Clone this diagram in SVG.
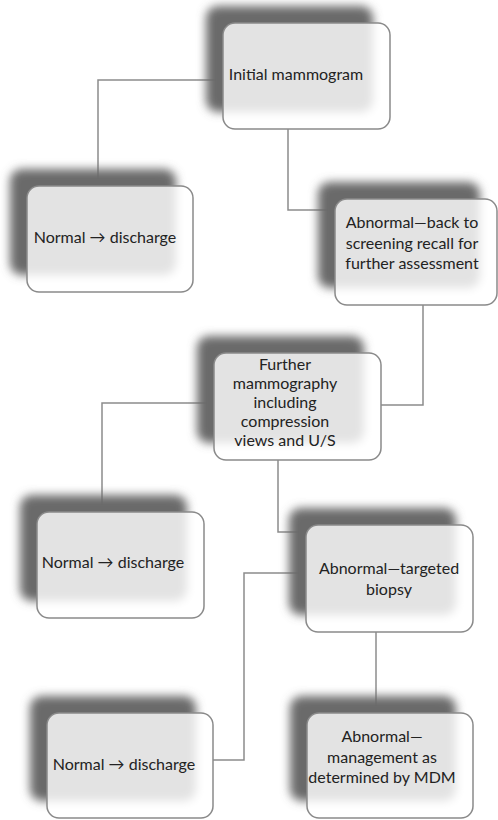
<svg xmlns="http://www.w3.org/2000/svg" width="498" height="820" viewBox="0 0 498 820">
<defs>
<filter id="blur" x="-20%" y="-20%" width="140%" height="140%"><feGaussianBlur stdDeviation="5"/></filter>
</defs>
<style>
.bg{fill:#ffffff}
.conn{fill:none;stroke:#8c8c8c;stroke-width:1.5}
.sh{fill:#6a6a6a;filter:url(#blur)}
.box{fill:#ffffff;fill-opacity:0.81;stroke:#8a8a8a;stroke-width:1.5}
text{font-family:Lato,"Liberation Sans",sans-serif;font-size:16px;fill:#222222;text-anchor:middle}
</style>
<rect class="bg" x="0" y="0" width="498" height="820"/>
<g id="connectors">
<path class="conn" d="M223,80 H98 V186"/>
<path class="conn" d="M288,129 V210 H335"/>
<path class="conn" d="M423,305 V405 H381"/>
<path class="conn" d="M214,403 H102 V512"/>
<path class="conn" d="M278,460 V532 H306"/>
<path class="conn" d="M306,573 H244 V760 H213"/>
<path class="conn" d="M376,632 V713"/>
</g>
<g id="n1">
<rect class="sh" x="206" y="6" width="167" height="106" rx="12"/>
<rect class="box" x="223" y="23" width="167" height="106" rx="12"/>
<text x="296" y="80">Initial mammogram</text>
</g>
<g id="n2">
<rect class="sh" x="10" y="169" width="166" height="106" rx="12"/>
<rect class="box" x="27" y="186" width="166" height="106" rx="12"/>
<text x="105" y="243">Normal → discharge</text>
</g>
<g id="n3">
<rect class="sh" x="318" y="182" width="162" height="106" rx="12"/>
<rect class="box" x="335" y="199" width="162" height="106" rx="12"/>
<text x="412" y="228">Abnormal—back to</text>
<text x="412" y="249">screening recall for</text>
<text x="412" y="269">further assessment</text>
</g>
<g id="n4">
<rect class="sh" x="197" y="336" width="167" height="107" rx="12"/>
<rect class="box" x="214" y="353" width="167" height="107" rx="12"/>
<text x="285" y="370">Further</text>
<text x="285" y="389">mammography</text>
<text x="285" y="408">including</text>
<text x="285" y="427">compression</text>
<text x="285" y="446">views and U/S</text>
</g>
<g id="n5">
<rect class="sh" x="20" y="495" width="167" height="106" rx="12"/>
<rect class="box" x="37" y="512" width="167" height="106" rx="12"/>
<text x="113" y="568">Normal → discharge</text>
</g>
<g id="n6">
<rect class="sh" x="289" y="508" width="167" height="107" rx="12"/>
<rect class="box" x="306" y="525" width="167" height="107" rx="12"/>
<text x="389" y="574">Abnormal—targeted</text>
<text x="389" y="595">biopsy</text>
</g>
<g id="n7">
<rect class="sh" x="30" y="696" width="166" height="105" rx="12"/>
<rect class="box" x="47" y="713" width="166" height="105" rx="12"/>
<text x="124" y="770">Normal → discharge</text>
</g>
<g id="n8">
<rect class="sh" x="290" y="696" width="166" height="105" rx="12"/>
<rect class="box" x="307" y="713" width="166" height="105" rx="12"/>
<text x="382" y="742">Abnormal—</text>
<text x="382" y="763">management as</text>
<text x="382" y="783">determined by MDM</text>
</g>
</svg>
